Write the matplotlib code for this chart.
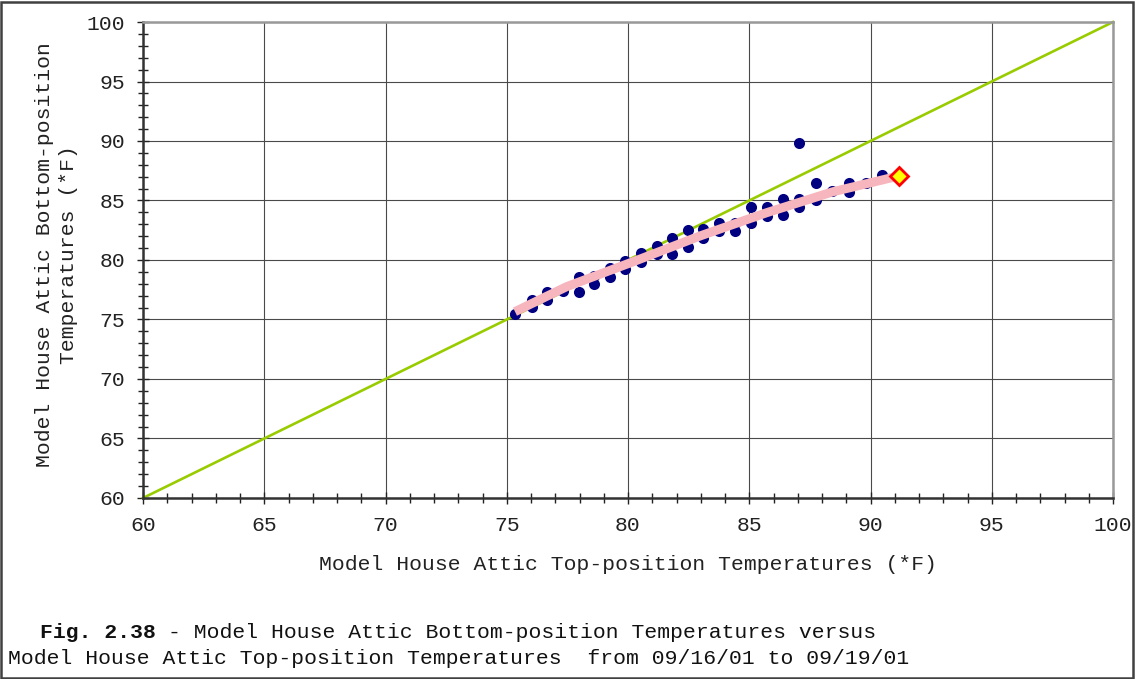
import matplotlib
matplotlib.use("Agg")
import matplotlib.pyplot as plt
from matplotlib.patches import Rectangle
from matplotlib.ticker import MultipleLocator

# ---- data ----
top_temp = [75.34, 76.03, 76.03, 76.68, 76.68, 77.30, 77.98, 77.98, 78.61, 78.61,
            79.26, 79.26, 79.88, 79.88, 80.54, 80.54, 81.18, 81.18, 81.81, 81.81,
            82.49, 82.49, 83.10, 83.10, 83.76, 83.76, 84.42, 84.42, 85.09, 85.09,
            85.75, 85.75, 86.41, 86.41, 87.07, 87.07, 87.07, 87.77, 87.77, 88.43,
            89.11, 89.11, 89.80, 90.46]
bottom_temp = [75.46, 76.64, 76.08, 77.34, 76.64, 77.42, 78.60, 77.28, 78.68, 77.98,
               79.30, 78.60, 79.94, 79.22, 80.61, 79.86, 81.18, 80.50, 81.88, 80.50,
               82.52, 81.12, 82.58, 81.82, 83.14, 82.46, 83.14, 82.46, 84.43, 83.08,
               84.48, 83.70, 85.10, 83.76, 85.10, 84.43, 89.80, 86.44, 85.04, 85.80,
               86.44, 85.74, 86.44, 87.14]
fit_x = [75.34, 77.47, 80.22, 82.97, 85.71, 88.46, 91.17]
fit_y = [75.66, 77.76, 79.86, 82.02, 83.97, 85.74, 87.06]
end_x = [91.17]
end_y = [87.06]
ref_x = [60, 100]
ref_y = [60, 100]
ticks = [60, 65, 70, 75, 80, 85, 90, 95, 100]

FONT = "Liberation Mono"
FS = 15.4

W, H = 1136, 679
fig = plt.figure(figsize=(W / 100, H / 100), dpi=100)
ax = fig.add_axes([143 / W, (H - 498) / H, (1113 - 143) / W, (498 - 22) / H])

ax.set_xlim(60, 100)
ax.set_ylim(60, 100)
ax.set_xticks(ticks)
ax.set_yticks(ticks)
ax.xaxis.set_minor_locator(MultipleLocator(1))
ax.yaxis.set_minor_locator(MultipleLocator(1))
ax.grid(True, which="major", color="#4a4a4a", lw=0.8, zorder=0)
ax.set_axisbelow(True)

for s in ("left", "bottom"):
    ax.spines[s].set_color("#333333")
    ax.spines[s].set_linewidth(1.8)
for s in ("top", "right"):
    ax.spines[s].set_color("#999999")
    ax.spines[s].set_linewidth(1.8)

ax.tick_params(which="major", direction="inout", length=8, width=1, color="#222222",
               labelsize=FS, pad=9)
ax.tick_params(which="minor", direction="inout", length=7, width=1, color="#222222")
for lab in ax.get_xticklabels() + ax.get_yticklabels():
    lab.set_fontfamily(FONT)
    lab.set_color("#222222")

ax.plot(ref_x, ref_y, color="#99CC00", lw=1.9, zorder=2, clip_on=False)
ax.scatter(top_temp, bottom_temp, s=64, color="#000080", zorder=3, linewidths=0)
ax.plot(fit_x, fit_y, color="#F7B5BD", lw=6.5, solid_capstyle="butt", zorder=4)
ax.plot(end_x, end_y, marker="D", ms=9, mfc="#FFFF00", mec="#FF0000", mew=2,
        linestyle="none", zorder=5)

ax.set_xlabel("Model House Attic Top-position Temperatures (*F)", fontfamily=FONT,
              fontsize=FS, color="#222222", labelpad=14)
fig.text(45 / W, 1 - 255 / H, "Model House Attic Bottom-position",
         rotation=90, ha="center", va="center", fontfamily=FONT, fontsize=FS, color="#222222")
fig.text(68 / W, 1 - 255 / H, "Temperatures (*F)",
         rotation=90, ha="center", va="center", fontfamily=FONT, fontsize=FS, color="#222222")

# caption (monospace: one character = 0.6 em)
cw = 0.6 * FS * 100 / 72
cap1_bold = "Fig. 2.38"
cap1_rest = "- Model House Attic Bottom-position Temperatures versus"
cap2 = "Model House Attic Top-position Temperatures  from 09/16/01 to 09/19/01"
xb = 40
fig.text(xb / W, 1 - 633 / H, cap1_bold, fontfamily=FONT, fontweight="bold", fontsize=FS,
         va="center", ha="left", color="#111111")
fig.text((xb + 10 * cw) / W, 1 - 633 / H, cap1_rest, fontfamily=FONT, fontsize=FS,
         va="center", ha="left", color="#111111")
fig.text(8 / W, 1 - 659 / H, cap2, fontfamily=FONT, fontsize=FS,
         va="center", ha="left", color="#111111")

fig.patches.append(Rectangle((1 / W, 1 / H), (W - 4) / W, (H - 3) / H,
                             transform=fig.transFigure, fill=False,
                             edgecolor="#404040", lw=1.8))

fig.savefig("out.png", dpi=100)
